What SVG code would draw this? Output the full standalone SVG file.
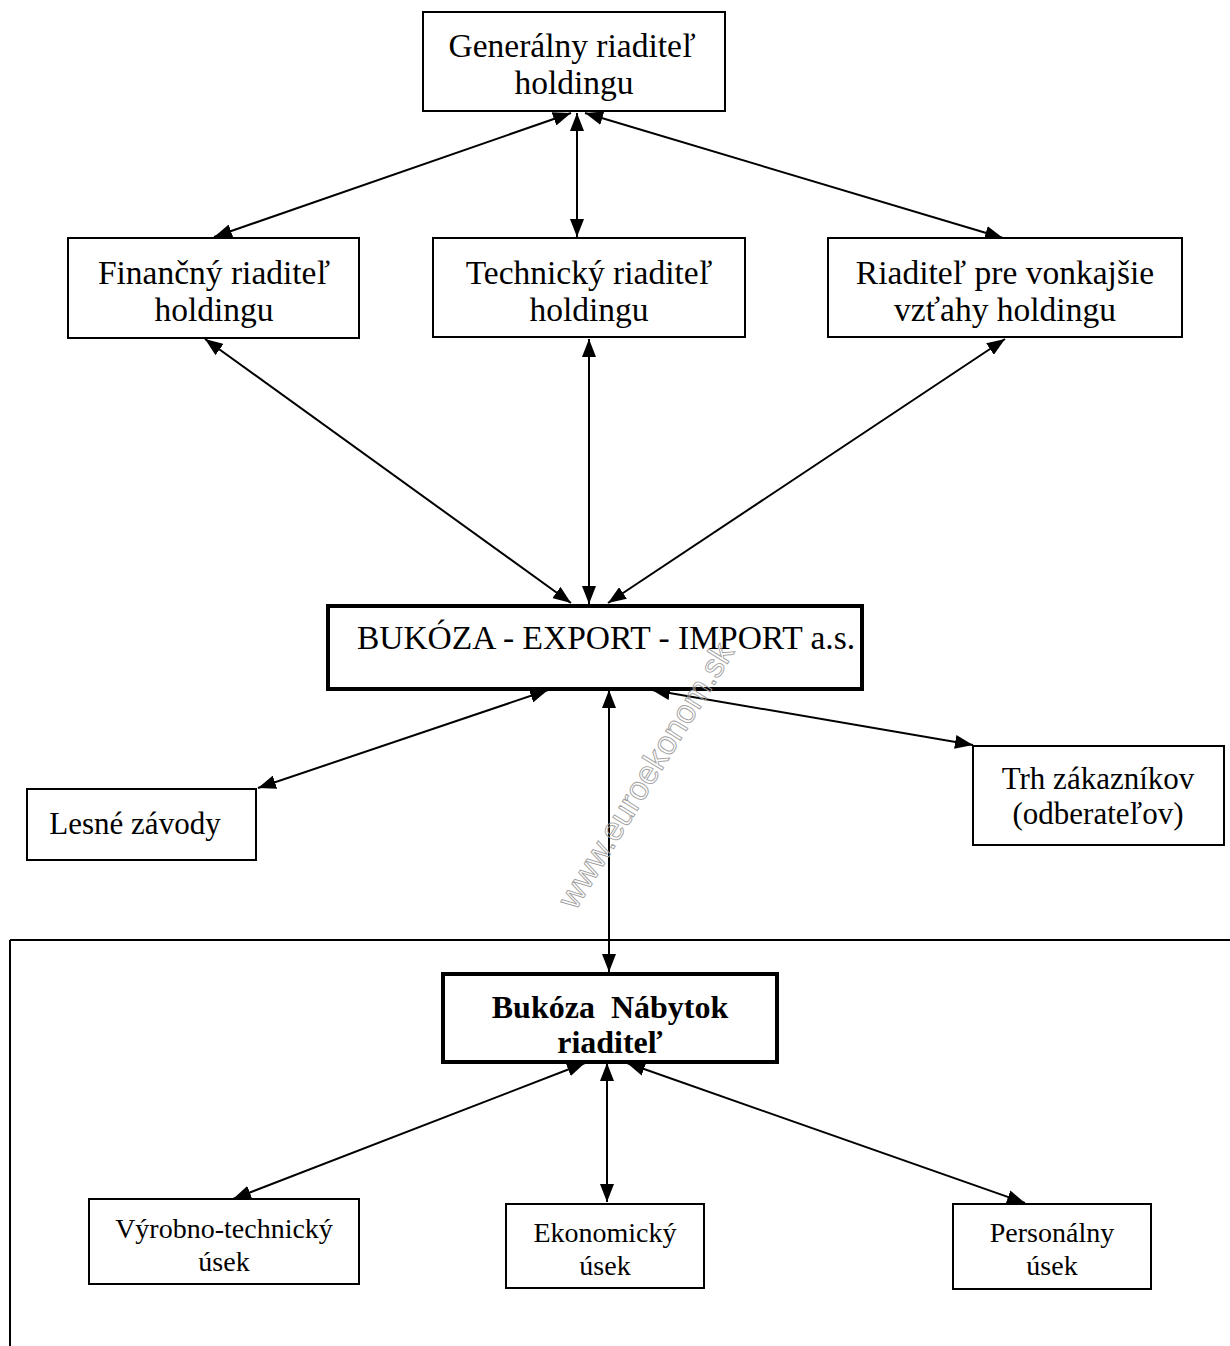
<svg xmlns="http://www.w3.org/2000/svg" width="1230" height="1346" viewBox="0 0 1230 1346">
<style>
.box{fill:#fff;stroke:#000;stroke-width:2}
.thick{fill:#fff;stroke:#000;stroke-width:4}
.t{font-family:"Liberation Serif","Times New Roman",serif;fill:#000;text-anchor:middle;white-space:pre}
.l{font-size:33.5px}
.m{font-size:31px}
.s{font-size:28px}
.b{font-weight:bold;font-size:32px}
.c{stroke:#000;stroke-width:2;fill:none;marker-start:url(#ah);marker-end:url(#ah)}
.wm{font-family:"Liberation Sans",Arial,sans-serif;font-size:33px;fill:none;stroke:#a0a0a0;stroke-width:0.9;text-anchor:middle}
</style>
<defs>
<marker id="ah" markerUnits="userSpaceOnUse" markerWidth="20" markerHeight="14" refX="18" refY="7" orient="auto-start-reverse">
<path d="M0,0 L18,7 L0,14 Z" fill="#000"/>
</marker>
</defs>
<g id="frame">
<line x1="10" y1="940" x2="1230" y2="940" stroke="#000" stroke-width="2"/>
<line x1="10" y1="940" x2="10" y2="1346" stroke="#000" stroke-width="2"/>
</g>
<g id="connectors">
<line class="c" x1="571" y1="113" x2="214" y2="237"/>
<line class="c" x1="577" y1="113" x2="577" y2="237"/>
<line class="c" x1="585" y1="113" x2="1003" y2="238"/>
<line class="c" x1="205" y1="339" x2="571" y2="603"/>
<line class="c" x1="589" y1="339" x2="589" y2="604"/>
<line class="c" x1="1005" y1="339" x2="608" y2="603"/>
<line class="c" x1="548" y1="690" x2="258" y2="788"/>
<line class="c" x1="609" y1="690" x2="609" y2="972"/>
<line class="c" x1="652" y1="690" x2="973" y2="745"/>
<line class="c" x1="585" y1="1063" x2="233" y2="1199"/>
<line class="c" x1="607" y1="1063" x2="607" y2="1202"/>
<line class="c" x1="627" y1="1063" x2="1025" y2="1203"/>
</g>
<g id="n-general">
<rect class="box" x="423" y="12" width="302" height="99"/>
<text class="t l" x="572" y="57">Generálny riaditeľ</text>
<text class="t l" x="574" y="94">holdingu</text>
</g>
<g id="n-financny">
<rect class="box" x="68" y="238" width="291" height="100"/>
<text class="t l" x="214" y="284">Finančný riaditeľ</text>
<text class="t l" x="214" y="321">holdingu</text>
</g>
<g id="n-technicky">
<rect class="box" x="433" y="238" width="312" height="99"/>
<text class="t l" x="589" y="284">Technický riaditeľ</text>
<text class="t l" x="589" y="321">holdingu</text>
</g>
<g id="n-vonkajsie">
<rect class="box" x="828" y="238" width="354" height="99"/>
<text class="t l" x="1005" y="284">Riaditeľ pre vonkajšie</text>
<text class="t l" x="1005" y="321">vzťahy holdingu</text>
</g>
<g id="n-bukoza">
<rect class="thick" x="328" y="606" width="534" height="83"/>
<text class="t l" x="606" y="649">BUKÓZA - EXPORT - IMPORT a.s.</text>
</g>
<g id="n-lesne">
<rect class="box" x="27" y="789" width="229" height="71"/>
<text class="t m" x="135" y="834">Lesné závody</text>
</g>
<g id="n-trh">
<rect class="box" x="973" y="746" width="251" height="99"/>
<text class="t m" x="1098" y="789">Trh zákazníkov</text>
<text class="t m" x="1098" y="824">(odberateľov)</text>
</g>
<g id="n-nabytok">
<rect class="thick" x="443" y="974" width="334" height="88"/>
<text class="t b" x="610" y="1018">Bukóza  Nábytok</text>
<text class="t b" x="610" y="1053">riaditeľ</text>
</g>
<g id="n-vyrobno">
<rect class="box" x="89" y="1199" width="270" height="85"/>
<text class="t s" x="224" y="1238">Výrobno-technický</text>
<text class="t s" x="224" y="1271">úsek</text>
</g>
<g id="n-ekonomicky">
<rect class="box" x="506" y="1204" width="198" height="84"/>
<text class="t s" x="605" y="1242">Ekonomický</text>
<text class="t s" x="605" y="1275">úsek</text>
</g>
<g id="n-personalny">
<rect class="box" x="953" y="1204" width="198" height="85"/>
<text class="t s" x="1052" y="1242">Personálny</text>
<text class="t s" x="1052" y="1275">úsek</text>
</g>
<g id="watermark">
<text class="wm" transform="translate(645,775) rotate(-58.4)" y="12">www.euroekonom.sk</text>
</g>
</svg>
